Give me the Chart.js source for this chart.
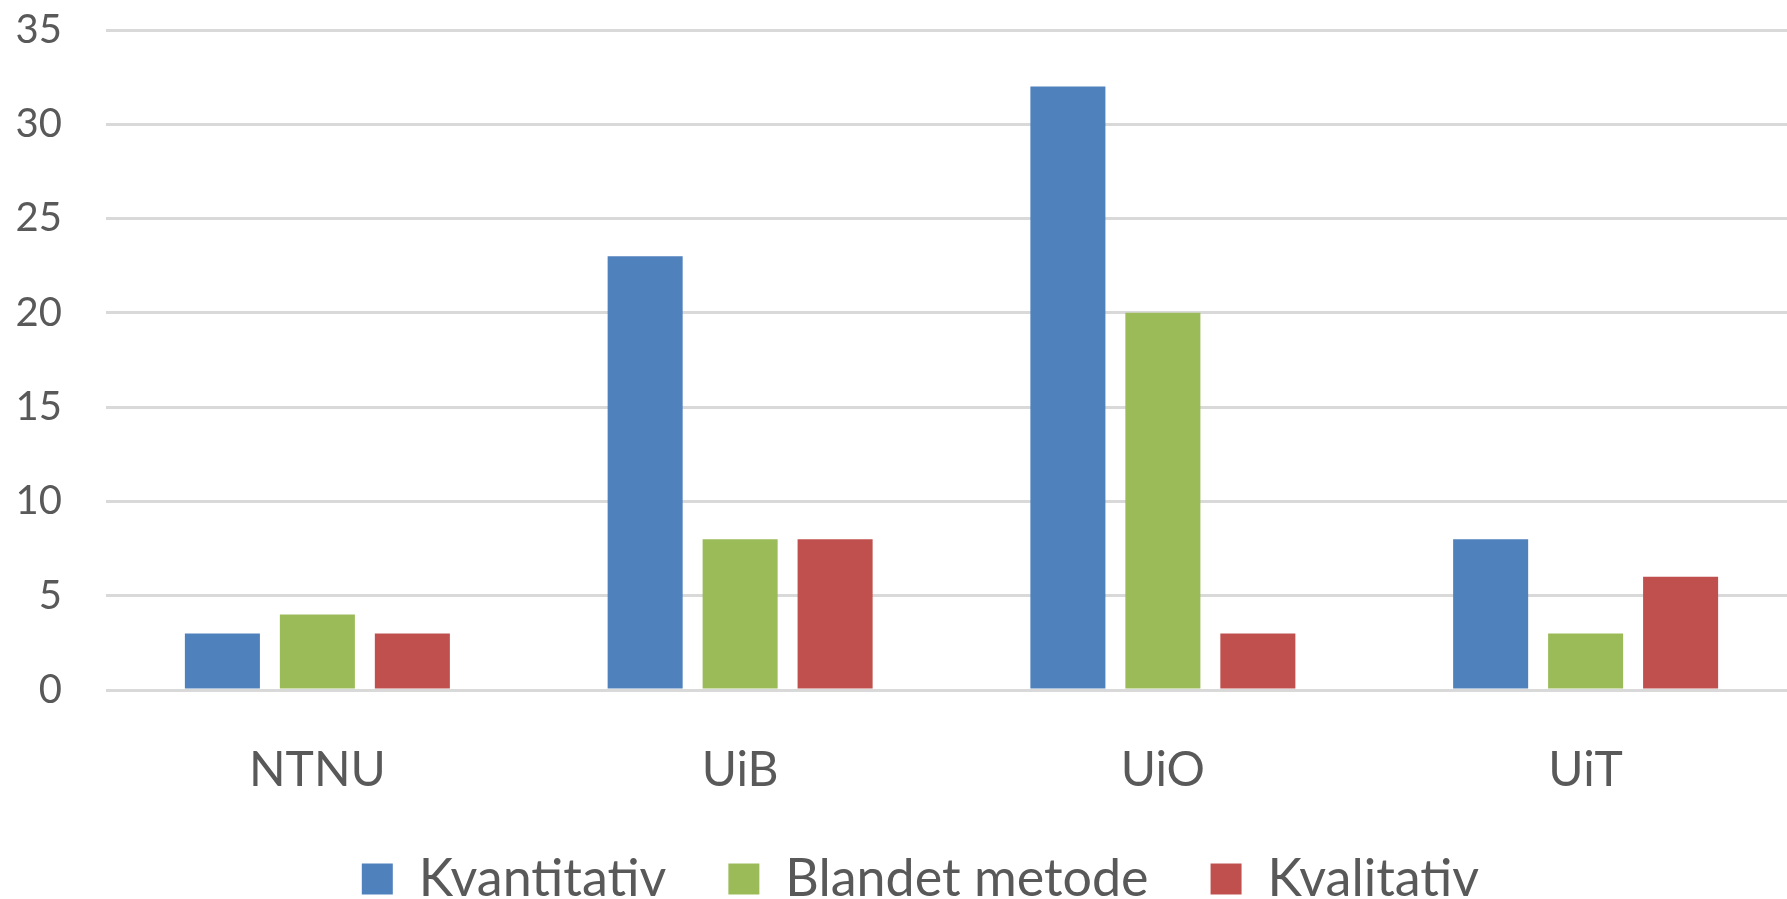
<!DOCTYPE html>
<html>
<head>
<meta charset="utf-8">
<script src="https://cdn.jsdelivr.net/npm/chart.js@4"></script>
<style>
  html, body { margin: 0; padding: 0; background: #fff; overflow: hidden; }
  #wrap { position: relative; width: 1797px; height: 899px; }
</style>
</head>
<body>
<div id="wrap"><canvas id="c"></canvas></div>
<script>
const categories = ["NTNU", "UiB", "UiO", "UiT"];
const seriesNames = ["Kvantitativ", "Blandet metode", "Kvalitativ"];
const kvantitativ = [3, 23, 32, 8];
const blandetMetode = [4, 8, 20, 3];
const kvalitativ = [3, 8, 3, 6];
const yTicks = [0, 5, 10, 15, 20, 25, 30, 35];

const colors = ["#4F81BD", "#9BBB59", "#C0504D"];
const values = [kvantitativ, blandetMetode, kvalitativ];

const FONT = "Lato, 'Open Sans', sans-serif";

const legendShift = {
  id: "legendShift",
  afterLayout(chart) {
    if (chart.legend) { chart.legend.left += 22; chart.legend.right += 22; }
  }
};

new Chart(document.getElementById("c"), {
  type: "bar",
  data: {
    labels: categories,
    datasets: seriesNames.map((n, i) => ({
      label: n,
      data: values[i],
      backgroundColor: colors[i],
      borderWidth: 0,
      categoryPercentage: 0.674,
      barPercentage: 0.79
    }))
  },
  plugins: [legendShift],
  options: {
    responsive: true,
    maintainAspectRatio: false,
    animation: false,
    devicePixelRatio: 1,
    layout: { padding: { top: 30, left: 0, right: 0, bottom: -16 } },
    plugins: {
      tooltip: { enabled: false },
      legend: {
        position: "bottom",
        labels: {
          boxWidth: 31,
          boxHeight: 31,
          padding: 62,
          color: "#595959",
          font: { family: FONT, size: 52 }
        }
      }
    },
    scales: {
      x: {
        grid: { display: false, drawTicks: false },
        border: { display: false },
        afterFit: (s) => { s.height = 101; s.paddingLeft = 0; s.paddingRight = 0; },
        ticks: {
          color: "#595959",
          padding: 52,
          font: { family: FONT, size: 48 }
        }
      },
      y: {
        min: 0,
        max: 35,
        afterBuildTicks: (axis) => { axis.ticks = yTicks.map(v => ({ value: v })); },
        afterFit: (s) => { s.width = 106; s.paddingTop = 0; s.paddingBottom = 0; },
        grid: { color: "#D9D9D9", lineWidth: 3, drawTicks: false },
        border: { display: false },
        ticks: {
          color: "#595959",
          padding: 44,
          font: { family: FONT, size: 40 }
        }
      }
    }
  }
});
</script>
</body>
</html>
